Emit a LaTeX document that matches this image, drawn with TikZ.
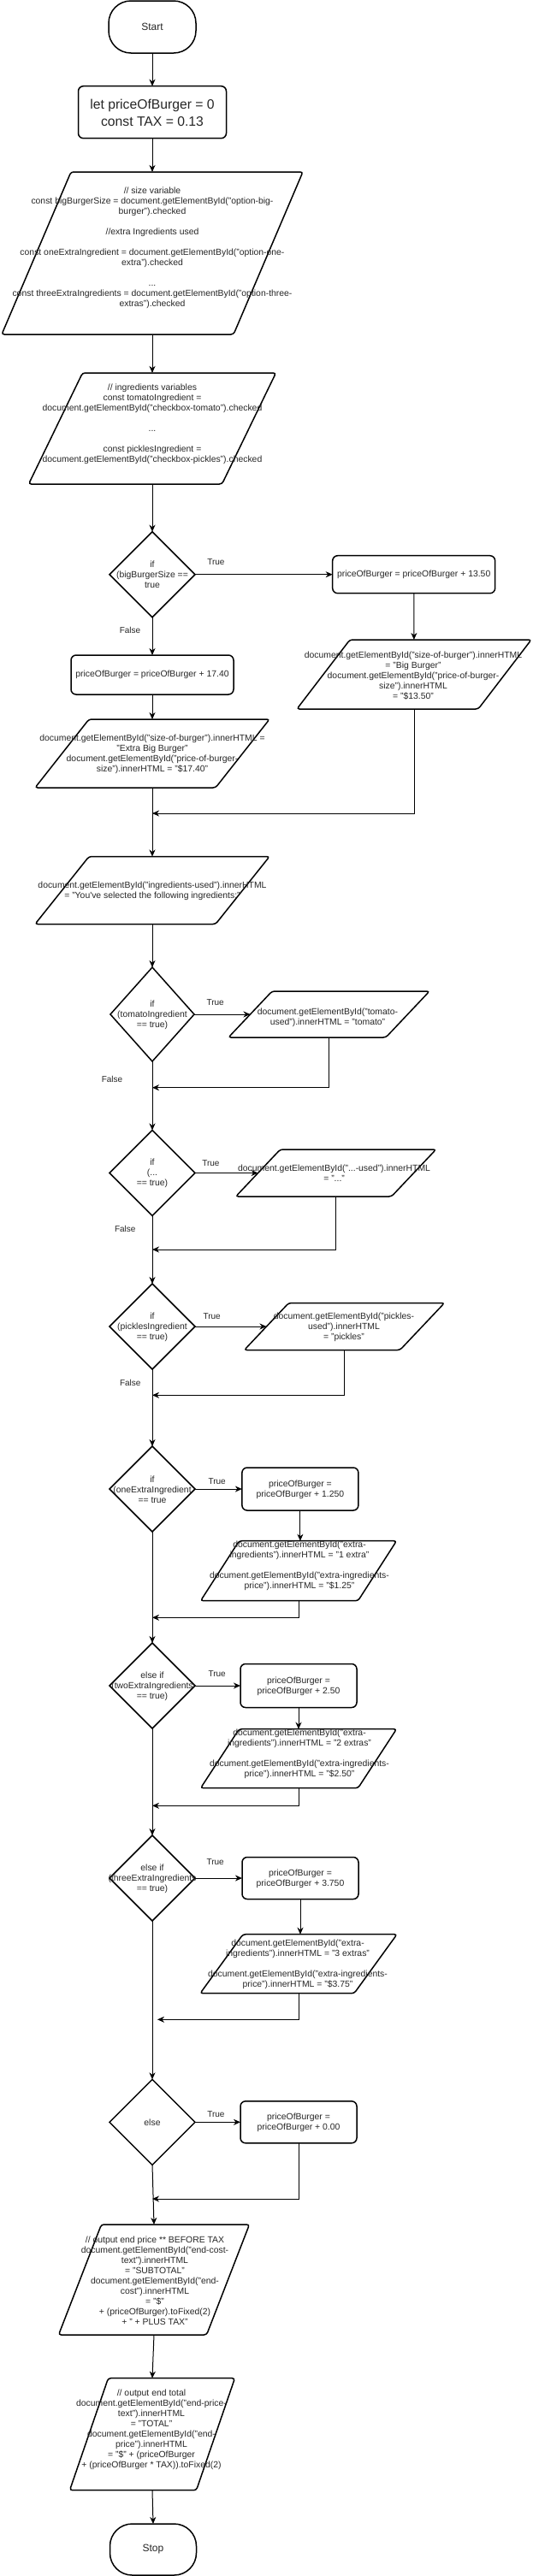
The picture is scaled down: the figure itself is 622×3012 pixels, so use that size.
\documentclass[tikz,border=0pt]{standalone}
\usepackage{fontspec}
\setmainfont{Liberation Sans}
\usetikzlibrary{shapes.geometric,arrows.meta,calc}
\newcommand\mypara[6]{%
  \node[pbase, minimum width=#4pt, minimum height=#5pt] (#1) at (#2,#3) {};
  \draw[line width=1.5pt, rounded corners=3pt, fill=white]
    ($(#1.north west)+(#6/2,0)$) -- ($(#1.north east)+(#6/2,0)$) --
    ($(#1.south east)+(-#6/2,0)$) -- ($(#1.south west)+(-#6/2,0)$) -- cycle;
}
\begin{document}
\begin{tikzpicture}[x=1pt,y=-1pt,
  shp/.style={draw=black, line width=1.5pt, fill=white, inner sep=0pt, outer sep=0pt},
  procbox/.style={shp, rectangle, rounded corners=6pt},
  term/.style={shp, rectangle, rounded corners=26pt},
  dec/.style={shp, diamond, minimum width=100pt, minimum height=100pt},
  pbase/.style={draw=none, rectangle, inner sep=0pt, outer sep=0pt},
  txt/.style={align=center, inner sep=0pt, font=\fontsize{10.4}{12}\selectfont, text=black!85},
  lbl/.style={inner sep=0pt, font=\fontsize{10}{12}\selectfont, text=black!85},
  con/.style={draw=black, line width=1pt, -{Stealth[length=8pt,width=7pt,inset=2.5pt]}},
]
\useasboundingbox (0,0) rectangle (622,3012);

% ---------- shapes ----------
\node[term, minimum width=102pt, minimum height=61pt] (start) at (178,31.5) {};
\node[procbox, minimum width=173pt, minimum height=61pt] (init) at (178,131.2) {};
\mypara{p1}{178}{296}{271}{190}{81}
\mypara{p2}{178}{501}{226}{130}{63}
\node[dec] (d1) at (178,671.7) {};
\node[procbox, minimum width=190pt, minimum height=44pt] (b1350) at (483.7,671.7) {};
\mypara{pbig}{484}{788.5}{212}{81}{62}
\node[procbox, minimum width=190pt, minimum height=46pt] (b1740) at (178,789) {};
\mypara{pextra}{178}{881}{211}{80}{63}
\mypara{pused}{178}{1041}{211}{79}{63}
\node[dec, minimum width=98pt, minimum height=110pt] (d2) at (178,1186) {};
\mypara{ptom}{384.5}{1186}{184}{54}{51}
\node[dec] (d3) at (178,1371.5) {};
\mypara{pdots}{392.6}{1371.5}{182}{55}{52}
\node[dec] (d4) at (178,1551) {};
\mypara{ppick}{402.5}{1551}{182}{55}{52}
\node[dec] (d5) at (178,1741) {};
\node[procbox, minimum width=136pt, minimum height=50pt] (b125) at (350.9,1741) {};
\mypara{pe1}{349}{1836.7}{184}{70}{45}
\node[dec] (d6) at (178,1971) {};
\node[procbox, minimum width=136pt, minimum height=51pt] (b250) at (349,1971) {};
\mypara{pe2}{349}{2056.2}{184}{69}{45}
\node[dec] (d7) at (178,2196) {};
\node[procbox, minimum width=136pt, minimum height=49pt] (b375) at (351,2196) {};
\mypara{pe3}{349}{2296.2}{180}{69}{50}
\node[dec] (d8) at (178,2481.3) {};
\node[procbox, minimum width=136pt, minimum height=49pt] (b000) at (349,2481.3) {};
\mypara{psub}{180}{2665.5}{173}{129}{50}
\mypara{ptot}{178}{2846.2}{148}{131}{45}
\node[term, minimum width=101pt, minimum height=60pt] (stop) at (179,2981) {};

% ---------- merge points ----------
\coordinate (m1) at (178,951);
\coordinate (m2) at (178,1271.7);
\coordinate (m3) at (178,1461);
\coordinate (m4) at (178,1631.3);
\coordinate (m5) at (178,1891.3);
\coordinate (m6) at (178,2111.3);
\coordinate (m7) at (184,2361.3);
\coordinate (m8) at (178,2571);

% ---------- connectors ----------
\draw[con] (start) -- (init);
\draw[con] (init) -- (p1);
\draw[con] (p1) -- (p2);
\draw[con] (p2) -- (d1);
\draw[con] (d1.east) -- node[lbl, pos=0.152, yshift=15pt] (t1) {True} (b1350.west);
\draw[con] (b1350) -- (pbig);
\draw[con] (d1.south) -- node[lbl, pos=0.34, xshift=-26pt] (f1) {False} (b1740.north);
\draw[con] (b1740) -- (pextra);
\draw[con] (pbig.south) |- (m1);
\draw[con] (pextra.south) -- (pused.north);
\draw[con] (pused.south) -- (d2.north);
\draw[con] (d2.east) -- node[lbl, pos=0.377, yshift=14pt] (t2) {True} (ptom.west);
\draw[con] (ptom.south) |- (m2);
\draw[con] (d2.south) -- node[lbl, pos=0.26, xshift=-47pt] (f2) {False} (d3.north);
\draw[con] (d3.east) -- node[lbl, pos=0.25, yshift=11.5pt] (t3) {True} (pdots.west);
\draw[con] (pdots.south) |- (m3);
\draw[con] (d3.south) -- node[lbl, pos=0.19, xshift=-31.7pt] (f3) {False} (d4.north);
\draw[con] (d4.east) -- node[lbl, pos=0.236, yshift=12pt] (t4) {True} (ppick.west);
\draw[con] (ppick.south) |- (m4);
\draw[con] (d4.south) -- node[lbl, pos=0.175, xshift=-25.7pt] (f4) {False} (d5.north);
\draw[con] (d5.east) -- node[lbl, pos=0.467, yshift=9.3pt] (t5) {True} (b125.west);
\draw[con] (b125.south) -- (b125.south |- pe1.north);
\draw[con] (pe1.south) |- (m5);
\draw[con] (d5.south) -- (d6.north);
\draw[con] (d6.east) -- node[lbl, pos=0.485, yshift=14.3pt] (t6) {True} (b250.west);
\draw[con] (b250.south) -- (pe2.north);
\draw[con] (pe2.south) |- (m6);
\draw[con] (d6.south) -- (d7.north);
\draw[con] (d7.east) -- node[lbl, pos=0.43, yshift=19.3pt] (t7) {True} (b375.west);
\draw[con] (b375.south) -- (b375.south |- pe3.north);
\draw[con] (pe3.south) |- (m7);
\draw[con] (d7.south) -- (d8.north);
\draw[con] (d8.east) -- node[lbl, pos=0.46, yshift=9.6pt] (t8) {True} (b000.west);
\draw[con] (b000.south) |- (m8);
\draw[con] (d8.south) -- (psub.north);
\draw[con] (psub.south) -- (ptot.north);
\draw[con] (ptot.south) -- (stop.north);

% ---------- texts ----------
\node[txt, font=\fontsize{12}{14}\selectfont] (start-t) at (178,31.5) {Start};
\node[txt, font=\fontsize{15.7}{20}\selectfont] (init-t) at (178,131.7) {let priceOfBurger = 0\\const TAX = 0.13};
\node[txt] (p1-t) at (178,290) {// size variable\\
const bigBurgerSize = document.getElementById("option-big-\\
burger").checked\\[12pt]
//extra Ingredients used\\[12pt]
const oneExtraIngredient = document.getElementById("option-one-\\
extra").checked\\[12pt]
...\\
const threeExtraIngredients = document.getElementById("option-three-\\
extras").checked};
\node[txt] (p2-t) at (178,495.5) {// ingredients variables\\
const tomatoIngredient =\\
document.getElementById("checkbox-tomato").checked\\[12pt]
...\\[12pt]
const picklesIngredient =\\
document.getElementById("checkbox-pickles").checked};
\node[txt] (d1-t) at (178,671.5) {if\\(bigBurgerSize ==\\true};
\node[txt] (b1350-t) at (483.7,671.7) {priceOfBurger = priceOfBurger + 13.50};
\node[txt] (pbig-t) at (483,790) {document.getElementById("size-of-burger").innerHTML\\
= "Big Burger"\\
document.getElementById("price-of-burger-\\
size").innerHTML\\
= "\$13.50"};
\node[txt] (b1740-t) at (178,789) {priceOfBurger = priceOfBurger + 17.40};
\node[txt] (pextra-t) at (178,881.7) {document.getElementById("size-of-burger").innerHTML =\\
"Extra Big Burger"\\
document.getElementById("price-of-burger-\\
size").innerHTML = "\$17.40"};
\node[txt] (pused-t) at (178,1042) {document.getElementById("ingredients-used").innerHTML\\
= "You\textquotesingle ve selected the following ingredients:"};
\node[txt] (d2-t) at (178,1186.7) {if\\(tomatoIngredient\\== true)};
\node[txt] (ptom-t) at (383,1190) {document.getElementById("tomato-\\
used").innerHTML = "tomato"};
\node[txt] (d3-t) at (178,1372) {if\\(...\\== true)};
\node[txt] (pdots-t) at (390.6,1372) {document.getElementById("...-used").innerHTML\\
= "..."};
\node[txt] (d4-t) at (178,1551.3) {if\\(picklesIngredient\\== true)};
\node[txt] (ppick-t) at (402,1552) {document.getElementById("pickles-\\
used").innerHTML\\
= "pickles"};
\node[txt] (d5-t) at (178,1741.8) {if\\(oneExtraIngredient\\== true};
\node[txt] (b125-t) at (350.9,1741.7) {priceOfBurger =\\priceOfBurger + 1.250};
\node[txt] (pe1-t) at (350,1831) {document.getElementById("extra-\\
ingredients").innerHTML = "1 extra"\\[12pt]
document.getElementById("extra-ingredients-\\
price").innerHTML = "\$1.25"};
\node[txt] (d6-t) at (178,1972) {else if\\(twoExtraIngredients\\== true)};
\node[txt] (b250-t) at (349,1972) {priceOfBurger =\\priceOfBurger + 2.50};
\node[txt] (pe2-t) at (350,2051) {document.getElementById("extra-\\
ingredients").innerHTML = "2 extras"\\[12pt]
document.getElementById("extra-ingredients-\\
price").innerHTML = "\$2.50"};
\node[txt] (d7-t) at (178,2197) {else if\\(threeExtraIngredients\\== true)};
\node[txt] (b375-t) at (351,2196.7) {priceOfBurger =\\priceOfBurger + 3.750};
\node[txt] (pe3-t) at (348,2297) {document.getElementById("extra-\\
ingredients").innerHTML = "3 extras"\\[12pt]
document.getElementById("extra-ingredients-\\
price").innerHTML = "\$3.75"};
\node[txt] (d8-t) at (178,2481.7) {else};
\node[txt] (b000-t) at (349,2482) {priceOfBurger =\\priceOfBurger + 0.00};
\node[txt] (psub-t) at (181,2666.7) {// output end price ** BEFORE TAX\\
document.getElementById("end-cost-\\
text").innerHTML\\
= "SUBTOTAL"\\
document.getElementById("end-\\
cost").innerHTML\\
= "\$"\\
+ (priceOfBurger).toFixed(2)\\
+ " + PLUS TAX"};
\node[txt] (ptot-t) at (177,2841) {// output end total\\
document.getElementById("end-price-\\
text").innerHTML\\
= "TOTAL"\\
document.getElementById("end-\\
price").innerHTML\\
= "\$" + (priceOfBurger\\
+ (priceOfBurger * TAX)).toFixed(2)};
\node[txt, font=\fontsize{12}{14}\selectfont] (stop-t) at (179,2981) {Stop};
\end{tikzpicture}
\end{document}
